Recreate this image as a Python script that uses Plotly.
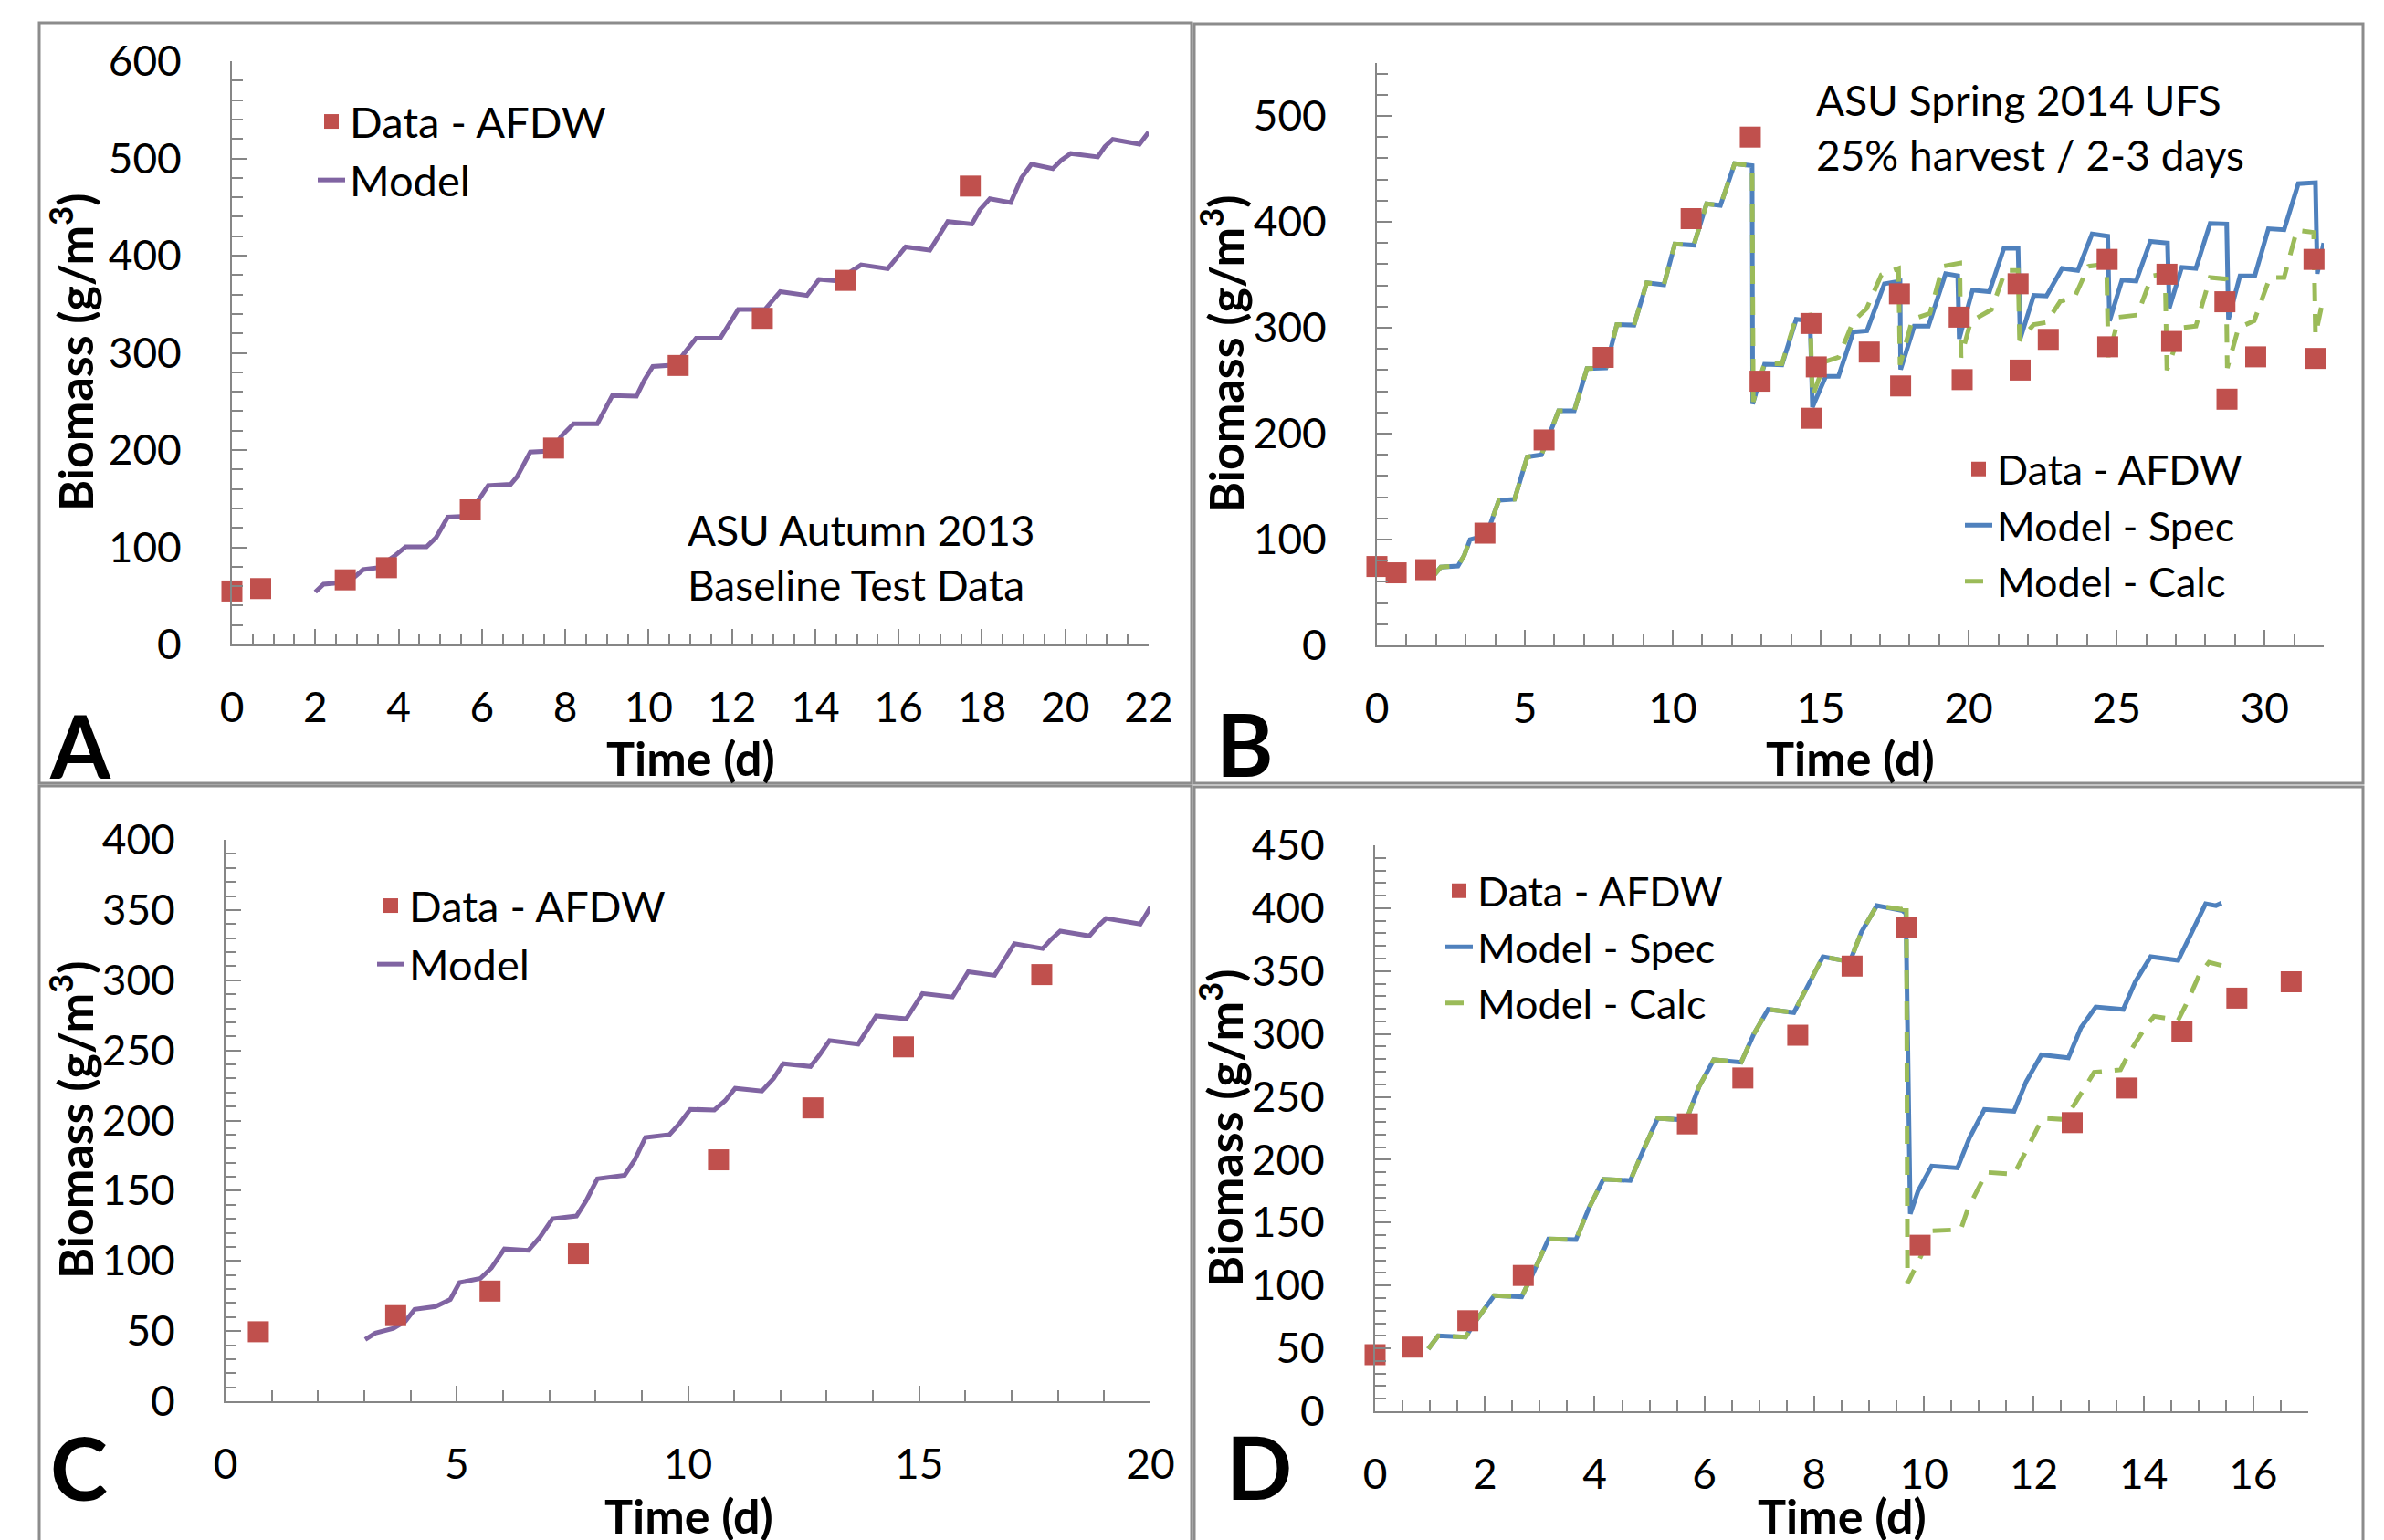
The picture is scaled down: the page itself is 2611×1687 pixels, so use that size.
import plotly.graph_objects as go

W, H = 2611, 1687
PAGE_MARGIN = 8  # the page body offsets the figure by this many pixels

# ---- panel A: ASU Autumn 2013, baseline test data ----
A_DATA_T = [0, 0.69, 2.72, 3.71, 5.72, 7.72, 10.71, 12.73, 14.73, 17.72]
A_DATA = [55, 57.5, 66.5, 79, 138.5, 202, 287, 335.5, 374.5, 471.5]
A_MODEL_T = [2.0, 2.2, 2.45, 2.85, 3.15, 3.5, 3.9, 4.17, 4.67, 4.9, 5.18, 5.63, 5.85, 6.15,
             6.69, 6.85, 7.16, 7.65, 7.92, 8.2, 8.77, 9.0, 9.13, 9.71, 9.9, 10.1, 10.64, 10.9,
             11.14, 11.72, 11.95, 12.15, 12.79, 13.0, 13.16, 13.8, 13.95, 14.09, 14.52, 14.85,
             15.1, 15.74, 15.95, 16.17, 16.75, 16.95, 17.18, 17.76, 17.95, 18.19, 18.69, 18.95,
             19.19, 19.7, 19.9, 20.13, 20.78, 20.95, 21.14, 21.78, 22.0]
A_MODEL = [54, 62, 63, 66, 77, 79, 91, 100.5, 100.5, 110, 131, 132, 144, 163.5,
           164.8, 173, 198, 199, 215, 227, 227, 245, 256, 255.5, 272, 286, 287.5, 302,
           315, 315, 332, 344.5, 344.5, 356, 363, 359, 368, 375.5, 374, 383,
           390.5, 386.5, 398, 409, 405.5, 420, 435, 432.5, 447, 458.5, 454.5, 480,
           494, 489.5, 498, 505, 501.5, 512, 519.5, 514.5, 527]

# ---- panel B: ASU Spring 2014 UFS, 25% harvest every 2-3 days ----
B_DATA_T = [0, 0.65, 1.65, 3.65, 5.65, 7.65, 10.62, 12.62, 12.95, 14.67, 14.7, 14.85, 16.64,
            17.66, 17.7, 19.68, 19.78, 21.67, 21.74, 22.69, 24.68, 24.7, 26.7, 26.86, 28.66,
            28.73, 29.7, 31.67, 31.72]
B_DATA = [74.5, 68.5, 71.5, 106, 194, 272, 403, 480, 249.5, 304, 214.5, 263, 277,
          332, 245, 310, 251, 341.5, 260, 289, 364.5, 282, 350.5, 287, 324.5,
          232.5, 272.5, 364.5, 271]
B_SPEC_T = [1.95, 2.16, 2.74, 2.95, 3.15, 3.7, 4.12, 4.65, 5.08, 5.56, 6.14, 6.67, 7.1, 7.74,
            8.11, 8.69, 9.12, 9.7, 10.07, 10.71, 11.14, 11.61, 12.09, 12.68, 12.7, 12.84, 13.1,
            13.69, 14.17, 14.64, 14.72, 15.17, 15.6, 16.1, 16.56, 17.15, 17.68, 17.7, 18.16,
            18.64, 19.22, 19.63, 19.68, 20.13, 20.7, 21.19, 21.67, 21.74, 22.2, 22.63, 23.16,
            23.69, 24.17, 24.7, 24.76, 25.18, 25.66, 26.14, 26.72, 26.78, 27.2, 27.68, 28.16,
            28.72, 28.78, 29.17, 29.67, 30.13, 30.66, 31.14, 31.72, 31.78, 32.0]
B_SPEC = [67, 74, 75, 85, 100, 104, 137, 138, 178, 180, 221.5, 221.5, 261.5, 262,
          303, 302.5, 342.5, 340.5, 379, 378, 417, 415.5, 455, 453, 228, 242, 265.5,
          265, 308, 306.5, 225, 254, 254, 296, 297, 341.5, 344, 260.5, 301.5,
          301.5, 351, 349, 289.5, 335.5, 334, 375, 375, 289.5, 330.5, 330, 356,
          354, 388.5, 386.5, 306.5, 345, 344, 381.5, 380, 318.5, 357, 356, 398.5,
          398, 308, 349, 349, 393.5, 392.5, 436, 437, 351, 380]
B_CALC_T = [1.95, 2.16, 2.74, 2.95, 3.15, 3.7, 4.12, 4.65, 5.08, 5.56, 6.14, 6.67, 7.1, 7.74,
            8.11, 8.69, 9.12, 9.7, 10.07, 10.71, 11.14, 11.61, 12.09, 12.68, 12.72, 12.84, 13.1,
            13.69, 14.17, 14.64, 14.72, 15.15, 15.6, 16.1, 16.55, 17.05, 17.63, 17.68, 18.1,
            18.69, 19.12, 19.7, 19.74, 20.07, 20.77, 21.24, 21.67, 21.72, 22.2, 22.63, 23.1,
            23.58, 24.05, 24.66, 24.72, 25.07, 25.7, 26.19, 26.64, 26.7, 27.2, 27.68, 28.16,
            28.7, 28.74, 29.12, 29.65, 30.18, 30.66, 31.09, 31.66, 31.72, 32.0]
B_CALC = [67, 74, 75, 85, 100, 104, 137, 138, 178, 180, 221.5, 221.5, 261.5, 262,
          303, 302.5, 342.5, 340.5, 379, 378, 417, 415.5, 455, 453, 230, 245, 266,
          266, 310, 312, 235, 268, 272, 306, 318, 350, 356, 265, 308,
          313.5, 358, 361, 272, 306, 317, 354, 354, 288, 303, 305, 325,
          329, 358, 360, 271, 310, 312, 349, 351, 260, 300, 301.5, 347.5,
          346, 262, 300, 306.5, 347.5, 347.5, 392, 390, 293, 330]

# ---- panel C ----
C_DATA_T = [0.71, 3.68, 5.72, 7.63, 10.66, 12.7, 14.66, 17.65]
C_DATA = [49.5, 61, 78.5, 105, 172, 209, 252.5, 304]
C_MODEL_T = [3.02, 3.24, 3.63, 3.89, 4.09, 4.54, 4.86, 5.06, 5.51, 5.75, 6.03, 6.55, 6.8, 7.07,
             7.59, 7.8, 8.04, 8.63, 8.85, 9.08, 9.6, 9.82, 10.05, 10.57, 10.8, 11.02, 11.6,
             11.85, 12.06, 12.65, 12.85, 13.06, 13.68, 13.88, 14.07, 14.72, 14.9, 15.07, 15.72,
             15.9, 16.06, 16.63, 16.85, 17.06, 17.67, 17.85, 18.05, 18.68, 18.85, 19.04, 19.78, 20.0]
C_MODEL = [44, 48.5, 52, 57, 65.5, 67.5, 72.5, 84.5, 87.5, 95, 108.5, 107.5, 117, 130,
           132, 143, 158.5, 161, 172, 188, 190, 198, 208, 207.5, 214, 223, 221,
           230, 240.5, 238.5, 247, 257, 254.5, 265, 274.5, 272.5, 282, 290.5, 288,
           297, 306, 303.5, 315, 326, 322.5, 329, 335, 331.5, 338, 344, 340, 352]

# ---- panel D ----
D_DATA_T = [0, 0.69, 1.69, 2.7, 5.69, 6.7, 7.7, 8.69, 9.68, 9.93, 12.7, 13.7, 14.7, 15.7, 16.69]
D_DATA = [45, 51, 72, 108, 228.5, 265, 299, 354, 385, 132, 229.5, 257, 302, 328.5, 341.5]
D_SPEC_T = [0.97, 1.15, 1.65, 1.82, 2.17, 2.67, 2.87, 3.16, 3.66, 3.9, 4.16, 4.65, 4.9, 5.15,
            5.67, 5.9, 6.17, 6.67, 6.9, 7.16, 7.63, 7.9, 8.16, 8.65, 8.86, 9.14, 9.61, 9.67,
            9.75, 9.89, 10.14, 10.61, 10.83, 11.1, 11.64, 11.86, 12.14, 12.63, 12.86, 13.13,
            13.63, 13.85, 14.13, 14.63, 14.88, 15.13, 15.32, 15.42]
D_SPEC = [49.5, 60, 59, 71, 92, 91, 109, 137, 136.5, 162, 184.5, 183.5, 209, 233,
          231.5, 258, 279.5, 277.5, 300, 319.5, 317, 340, 361.5, 357.5, 381, 402, 398, 396,
          157, 175, 195, 193.5, 217.5, 240, 238.5, 262, 283.5, 281, 305, 321.5,
          319.5, 341.5, 361.5, 358.5, 382, 403.5, 402, 404]
D_CALC_T = [0.97, 1.15, 1.65, 1.82, 2.17, 2.67, 2.87, 3.16, 3.66, 3.9, 4.16, 4.65, 4.9, 5.15,
            5.67, 5.9, 6.17, 6.67, 6.9, 7.16, 7.63, 7.9, 8.16, 8.65, 8.86, 9.14, 9.61, 9.68,
            9.7, 9.94, 10.14, 10.67, 10.8, 11.14, 11.64, 11.86, 12.16, 12.55, 12.74, 13.1,
            13.58, 13.74, 14.05, 14.19, 14.63, 14.77, 15.02, 15.19, 15.42]
D_CALC = [49.5, 60, 59, 71, 92, 91, 109, 137, 136.5, 162, 184.5, 183.5, 209, 233,
          231.5, 258, 279.5, 277.5, 300, 319.5, 317, 340, 361.5, 357.5, 381, 402, 399, 405,
          101.5, 123, 143.5, 144.5, 161, 190, 188.5, 207, 233, 232, 244, 269.5,
          271.5, 285, 306.5, 314, 311, 323, 347.5, 357, 354.5]

RED = "#C0504D"
PURPLE = "#8064A2"
BLUE = "#4F81BD"
GREEN = "#9BBB59"
GREY = "#868686"
FONT = "Lato"


def px(x):
    return (x - PAGE_MARGIN) / W


def py(y):
    return 1 - (y - PAGE_MARGIN) / H


fig = go.Figure()


def data_trace(t, v, ax, legend):
    return go.Scatter(x=t, y=v, mode="markers", name="Data - AFDW", xaxis="x" + ax, yaxis="y" + ax,
                      marker=dict(symbol="square", size=23, color=RED, line=dict(width=0)),
                      cliponaxis=False, legend=legend, legendrank=1)


def line_trace(t, v, ax, legend, name, color, dash="solid", rank=2):
    return go.Scatter(x=t, y=v, mode="lines", name=name, xaxis="x" + ax, yaxis="y" + ax,
                      line=dict(color=color, width=5, dash=dash), legend=legend, legendrank=rank)


fig.add_trace(line_trace(A_MODEL_T, A_MODEL, "", "legend", "Model", PURPLE))
fig.add_trace(data_trace(A_DATA_T, A_DATA, "", "legend"))

fig.add_trace(line_trace(B_SPEC_T, B_SPEC, "2", "legend2", "Model - Spec", BLUE))
fig.add_trace(line_trace(B_CALC_T, B_CALC, "2", "legend2", "Model - Calc", GREEN, "20px,14px", 3))
fig.add_trace(data_trace(B_DATA_T, B_DATA, "2", "legend2"))

fig.add_trace(line_trace(C_MODEL_T, C_MODEL, "3", "legend3", "Model", PURPLE))
fig.add_trace(data_trace(C_DATA_T, C_DATA, "3", "legend3"))

fig.add_trace(line_trace(D_SPEC_T, D_SPEC, "4", "legend4", "Model - Spec", BLUE))
fig.add_trace(line_trace(D_CALC_T, D_CALC, "4", "legend4", "Model - Calc", GREEN, "20px,14px", 3))
fig.add_trace(data_trace(D_DATA_T, D_DATA, "4", "legend4"))

tickfont = dict(family=FONT, size=46, color="black")


def axis(dom, rng, dtick, minor, is_x):
    return dict(domain=dom, range=rng, dtick=dtick, tick0=0, showline=True, linecolor=GREY,
                linewidth=2, ticks="inside", ticklen=17, tickwidth=2, tickcolor=GREY,
                showgrid=False, zeroline=False, automargin=False, tickfont=tickfont,
                ticklabelstandoff=28 if is_x else 44, fixedrange=True,
                minor=dict(dtick=minor, tick0=0, ticks="inside", ticklen=12, tickwidth=2,
                           tickcolor=GREY, showgrid=False))


# plot areas in pixels: (left, right, top, bottom) + ranges and tick steps
panels = {
    "": (254, 1258, 67, 706, [0, 22], 2, 0.5, [0, 600], 100, 20),
    "2": (1508, 2545, 69, 707, [0, 32], 5, 1, [0, 550], 100, 20),
    "3": (247, 1260, 920, 1535, [0, 20], 5, 1, [0, 400], 50, 10),
    "4": (1506, 2528, 926, 1546, [0, 17], 2, 0.5, [0, 450], 50, 10),
}
layout_axes = {}
for key, (l, r, t, b, xr, xd, xm, yr, yd, ym) in panels.items():
    xa = axis([px(l), px(r)], xr, xd, xm, True)
    ya = axis([py(b), py(t)], yr, yd, ym, False)
    xa["anchor"] = "y" + key
    ya["anchor"] = "x" + key
    layout_axes["xaxis" + key] = xa
    layout_axes["yaxis" + key] = ya


def leg(x, y, size=47):
    return dict(x=px(x), y=py(y), xanchor="left", yanchor="top",
                font=dict(family=FONT, size=size, color="black"),
                bgcolor="rgba(0,0,0,0)", borderwidth=0, tracegroupgap=0)


annotations = []


def text(x, y, s, size=46, bold=False, angle=0, anchor="center", align="center"):
    if bold:
        s = "<b>" + s + "</b>"
    annotations.append(dict(x=px(x), y=py(y), xref="paper", yref="paper", text=s, showarrow=False,
                            font=dict(family=FONT, size=size, color="black"), textangle=angle,
                            xanchor=anchor, yanchor="middle", align=align))


ytitle = "Biomass (g/m<sup>3</sup>)"
text(79, 386, ytitle, 52, True, -90)
text(1339, 388, ytitle, 52, True, -90)
text(78, 1227, ytitle, 52, True, -90)
text(1337, 1236, ytitle, 52, True, -90)
text(756, 830, "Time (d)", 52, True)
text(2026, 830, "Time (d)", 52, True)
text(754, 1660, "Time (d)", 52, True)
text(2017, 1660, "Time (d)", 52, True)

text(88, 816, "A", 95, True)
text(1363, 814, "B", 95, True)
text(86, 1607, "C", 95, True)
text(1379, 1606, "D", 95, True)

text(751, 610, "ASU Autumn 2013<br>Baseline Test Data", 46, anchor="left", align="left")
text(1987, 140, "ASU Spring 2014 UFS<br>25% harvest / 2-3 days", 46, anchor="left", align="left")

box = dict(type="rect", xref="paper", yref="paper", line=dict(color="#8C8C8C", width=3))
shapes = [
    dict(box, x0=px(43), x1=px(1305), y0=py(25), y1=py(858)),
    dict(box, x0=px(1308), x1=px(2588), y0=py(26), y1=py(858)),
    dict(box, x0=px(43), x1=px(1305), y0=py(861), y1=py(1720)),
    dict(box, x0=px(1308), x1=px(2588), y0=py(862), y1=py(1720)),
]

fig.update_layout(
    template="none",
    width=W, height=H, margin=dict(l=0, r=0, t=0, b=0, autoexpand=False),
    paper_bgcolor="white", plot_bgcolor="white",
    showlegend=True,
    legend=leg(343, 96),
    legend2=leg(2147, 478, 45),
    legend3=leg(408, 955),
    legend4=leg(1578, 940, 45),
    annotations=annotations, shapes=shapes,
    **layout_axes,
)

fig.write_html("out.html")
